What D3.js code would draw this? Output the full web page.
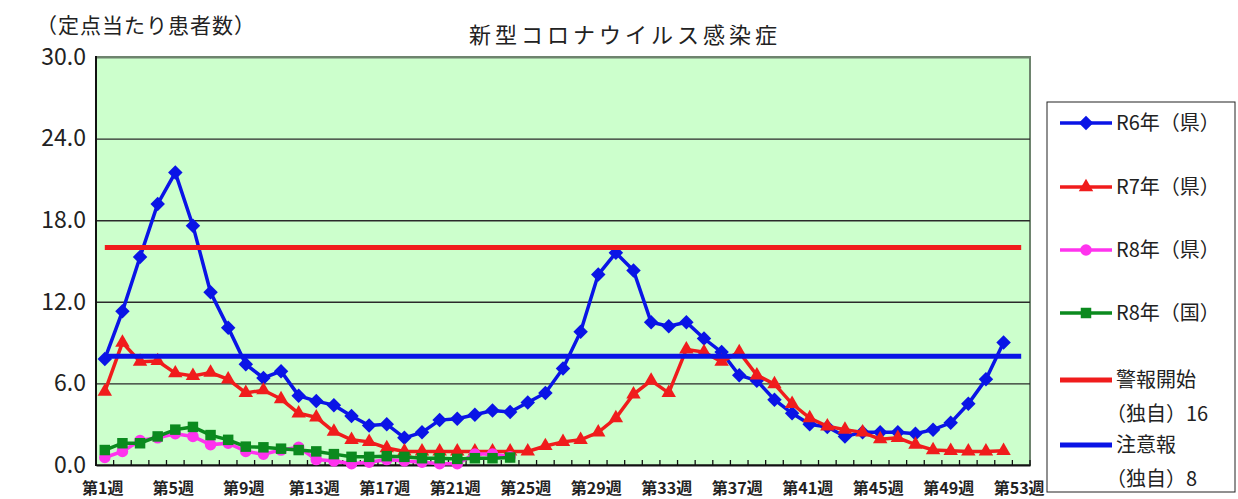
<!DOCTYPE html>
<html>
<head>
<meta charset="utf-8">
<script src="https://cdn.jsdelivr.net/npm/d3@7"></script>
<style>
body { margin: 0; background: #fff; }
text { font-family: "Noto Sans CJK JP", "Liberation Sans", sans-serif; fill: #222; }
</style>
</head>
<body>
<div id="chart"></div>
<script>
// data
var weeks = d3.range(1, 54);
var r6 = [7.8,11.3,15.3,19.2,21.5,17.6,12.7,10.1,7.4,6.4,6.9,5.1,4.7,4.4,3.6,2.9,3.0,2.0,2.4,3.3,
          3.4,3.7,4.0,3.9,4.6,5.3,7.1,9.8,14.0,15.6,14.3,10.5,10.2,10.5,9.3,8.3,6.6,6.2,4.8,3.8,
          3.0,2.8,2.1,2.4,2.4,2.4,2.3,2.6,3.1,4.5,6.3,9.0];
var r7 = [5.4,9.0,7.6,7.65,6.75,6.55,6.8,6.3,5.3,5.5,4.85,3.8,3.5,2.45,1.85,1.7,1.25,1.0,1.0,1.0,
          1.0,1.0,1.0,1.0,1.0,1.4,1.7,1.85,2.4,3.45,5.2,6.2,5.3,8.5,8.3,7.6,8.3,6.6,5.95,4.5,
          3.45,2.85,2.6,2.4,1.9,2.0,1.5,1.1,1.05,1.0,1.0,1.05];
var r8ken = [0.55,1.0,1.8,2.0,2.3,2.1,1.5,1.6,1.0,0.8,1.1,1.3,0.4,0.3,0.1,0.2,0.4,0.3,0.2,0.1,
             0.1,0.8,0.8,0.6];
var r8kuni = [1.1,1.6,1.6,2.1,2.6,2.8,2.2,1.85,1.35,1.3,1.2,1.1,1.0,0.8,0.6,0.6,0.65,0.6,0.5,0.5,
              0.45,0.5,0.5,0.55];
var alertLevel = 16, warnLevel = 8;
var yTicks = [0, 6, 12, 18, 24, 30];
var xLabelWeeks = [1, 5, 9, 13, 17, 21, 25, 29, 33, 37, 41, 45, 49, 53];

var W = 1238, H = 499;
var plot = {left: 96, right: 1030, top: 57, bottom: 465};

var svg = d3.select("#chart").append("svg")
    .attr("width", W).attr("height", H);

var x = d3.scaleBand().domain(weeks).range([plot.left, plot.right]).padding(0);
var cx = function(w) { return x(w) + x.bandwidth() / 2; };
var y = d3.scaleLinear().domain([0, 30]).range([plot.bottom, plot.top]);

// background
svg.append("rect")
    .attr("x", plot.left).attr("y", plot.top)
    .attr("width", plot.right - plot.left).attr("height", plot.bottom - plot.top)
    .attr("fill", "#ccffcc")
    .attr("stroke", "#6e846e").attr("stroke-width", 2);

// gridlines + y labels
var yAxis = svg.append("g")
    .attr("transform", "translate(" + plot.left + ",0)")
    .call(d3.axisLeft(y).tickValues(yTicks).tickSize(-(plot.right - plot.left))
        .tickFormat(d3.format(".1f")).tickPadding(10));
yAxis.select(".domain").remove();
yAxis.selectAll(".tick line")
    .attr("stroke", function(d) { return d === 30 ? "#6e846e" : "#2a2a2a"; })
    .attr("stroke-width", function(d) { return d === 30 ? 2 : 1.4; })
    .style("display", function(d) { return d === 0 ? "none" : null; });
yAxis.selectAll(".tick text")
    .attr("font-size", 23)
    .attr("font-family", "Liberation Sans, sans-serif")
    .attr("fill", "#222");

// x axis
var xAxis = svg.append("g")
    .attr("transform", "translate(0," + plot.bottom + ")")
    .call(d3.axisBottom(x).tickValues([]).tickSizeOuter(0));
xAxis.select(".domain").attr("stroke", "#111").attr("stroke-width", 2);
svg.append("g").selectAll("line")
    .data(d3.range(0, 54))
    .enter().append("line")
    .attr("x1", function(k) { return plot.left + k * x.bandwidth(); })
    .attr("x2", function(k) { return plot.left + k * x.bandwidth(); })
    .attr("y1", plot.bottom).attr("y2", plot.bottom - 5)
    .attr("stroke", "#111").attr("stroke-width", 1.3);
svg.append("line")
    .attr("x1", plot.left).attr("x2", plot.left)
    .attr("y1", plot.top - 1).attr("y2", plot.bottom + 1)
    .attr("stroke", "#111").attr("stroke-width", 2);

svg.append("g").selectAll("text")
    .data(xLabelWeeks)
    .enter().append("text")
    .attr("x", function(w) { return cx(w) - 2; })
    .attr("y", 494)
    .attr("text-anchor", "middle")
    .attr("font-size", 16)
    .attr("font-weight", "bold")
    .text(function(w) { return "第" + w + "週"; });

// series
var line = d3.line()
    .x(function(d, i) { return cx(i + 1); })
    .y(function(d) { return y(d); });

var series = [
    {key: "R6年（県）", values: r6, color: "#0a14e6", sym: d3.symbol().type(d3.symbolSquare).size(105), rot: 45},
    {key: "R7年（県）", values: r7, color: "#f01c1c", sym: d3.symbol().type(d3.symbolTriangle).size(90), rot: 0},
    {key: "R8年（県）", values: r8ken, color: "#ff33ee", sym: d3.symbol().type(d3.symbolCircle).size(105), rot: 0},
    {key: "R8年（国）", values: r8kuni, color: "#0b8a1e", sym: d3.symbol().type(d3.symbolSquare).size(110), rot: 0}
];

series.forEach(function(s) {
    var g = svg.append("g");
    g.append("path")
        .attr("d", line(s.values))
        .attr("fill", "none")
        .attr("stroke", s.color)
        .attr("stroke-width", 3.5);
    g.selectAll("path.pt")
        .data(s.values)
        .enter().append("path")
        .attr("class", "pt")
        .attr("d", s.sym)
        .attr("fill", s.color)
        .attr("transform", function(d, i) {
            return "translate(" + cx(i + 1) + "," + y(d) + ") rotate(" + s.rot + ")";
        });
});

// reference lines
var refs = [
    {v: alertLevel, color: "#f01c1c"},
    {v: warnLevel, color: "#0a14e6"}
];
svg.append("g").selectAll("line")
    .data(refs)
    .enter().append("line")
    .attr("x1", cx(1)).attr("x2", cx(53))
    .attr("y1", function(d) { return y(d.v); })
    .attr("y2", function(d) { return y(d.v); })
    .attr("stroke", function(d) { return d.color; })
    .attr("stroke-width", 5);

// titles
svg.append("text")
    .attr("x", 36).attr("y", 33)
    .attr("font-size", 21)
    .attr("letter-spacing", 1)
    .text("（定点当たり患者数）");
svg.append("text")
    .attr("x", 625).attr("y", 43)
    .attr("text-anchor", "middle")
    .attr("font-size", 22)
    .attr("letter-spacing", 4)
    .text("新型コロナウイルス感染症");

// legend
var lg = svg.append("g");
lg.append("rect")
    .attr("x", 1047).attr("y", 102)
    .attr("width", 188).attr("height", 390)
    .attr("fill", "#fff").attr("stroke", "#222").attr("stroke-width", 1);

var legendRows = [
    {label: ["R6年（県）"], y: 123, s: series[0]},
    {label: ["R7年（県）"], y: 187, s: series[1]},
    {label: ["R8年（県）"], y: 250, s: series[2]},
    {label: ["R8年（国）"], y: 313, s: series[3]},
    {label: ["警報開始", "（独自）16"], y: 380, color: "#f01c1c"},
    {label: ["注意報", "（独自）8"], y: 445, color: "#0a14e6"}
];
legendRows.forEach(function(r) {
    var col = r.s ? r.s.color : r.color;
    lg.append("line")
        .attr("x1", 1060).attr("x2", 1112)
        .attr("y1", r.y).attr("y2", r.y)
        .attr("stroke", col)
        .attr("stroke-width", r.s ? 3.5 : 5);
    if (r.s) {
        lg.append("path")
            .attr("d", r.s.sym)
            .attr("fill", col)
            .attr("transform", "translate(1086," + r.y + ") rotate(" + r.s.rot + ")");
    }
    r.label.forEach(function(t, i) {
        lg.append("text")
            .attr("x", t.charAt(0) === "（" ? 1106 : 1116)
            .attr("y", r.y + 7 + i * 34)
            .attr("font-size", 20)
            .text(t);
    });
});
</script>
</body>
</html>
